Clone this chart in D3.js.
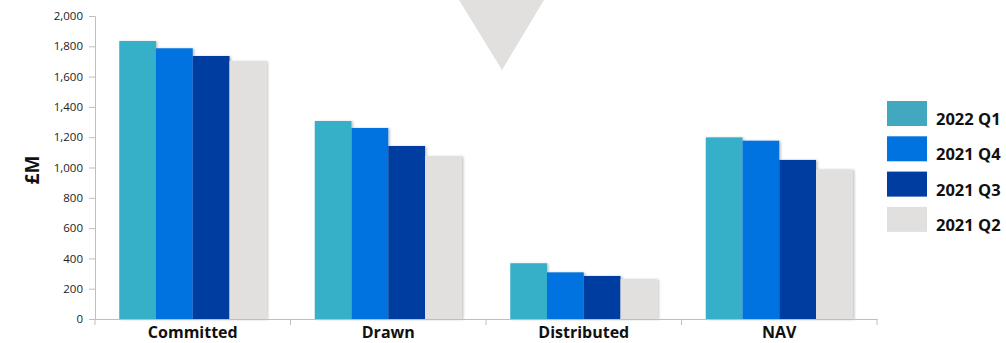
<!DOCTYPE html>
<html><head><meta charset="utf-8">
<script src="https://cdn.jsdelivr.net/npm/d3@7"></script>
<style>html,body{margin:0;padding:0;background:#fff;overflow:hidden}</style>
</head><body>
<svg id="c" width="1006" height="343"></svg>
<script>
const categories = ["Committed", "Drawn", "Distributed", "NAV"];
const seriesNames = ["2022 Q1", "2021 Q4", "2021 Q3", "2021 Q2"];
const q1_2022 = [1835, 1307, 368, 1199];
const q4_2021 = [1787, 1261, 308, 1177];
const q3_2021 = [1736, 1142, 284, 1050];
const q2_2021 = [1703, 1076, 264, 988];
const yTicks = [0, 200, 400, 600, 800, 1000, 1200, 1400, 1600, 1800, 2000];
const barColors = ["#35B0C8", "#0073E0", "#003DA0", "#E1E0DF"];
const legendColors = ["#41A8BF", "#0073E0", "#003DA0", "#E1E0DF"];
const seriesValues = [q1_2022, q4_2021, q3_2021, q2_2021];

const svg = d3.select("#c");
const font = "'Open Sans', 'DejaVu Sans', sans-serif";

// decorative triangle
svg.append("path").attr("d", "M459,0 L544,0 L502,70 Z").attr("fill", "#E1E0DF");

const x0 = d3.scaleBand().domain(categories).range([95, 877]).paddingInner(0).paddingOuter(0);
const x1 = d3.scaleBand().domain(seriesNames).range([0, x0.bandwidth()]).paddingOuter(0.66).paddingInner(0);
const y = d3.scaleLinear().domain([0, 2000]).range([319, 16]);

const defs = svg.append("defs");
const f = defs.append("filter").attr("id","sh").attr("x","-20%").attr("y","-5%").attr("width","150%").attr("height","110%");
f.append("feDropShadow").attr("dx",1.5).attr("dy",0.5).attr("stdDeviation",0.8).attr("flood-color","#000").attr("flood-opacity",0.25);

// y axis
const yAxis = d3.axisLeft(y).tickValues(yTicks).tickFormat(d3.format(",")).tickSize(6).tickPadding(6);
const gy = svg.append("g").attr("transform","translate(95,0)").call(yAxis);
gy.select(".domain").attr("stroke","#BFBFBF");
gy.selectAll(".tick line").attr("stroke","#BFBFBF");
gy.selectAll(".tick text").attr("fill","#222").style("font-family",font).style("font-size","11.5px");

// bars
const groups = svg.append("g").selectAll("g").data(categories).join("g")
  .attr("transform", d => `translate(${x0(d)},0)`);
groups.selectAll("rect").data((c, ci) => seriesNames.map((s, si) => ({s, si, v: seriesValues[si][ci]})))
  .join("rect")
  .attr("x", d => x1(d.s))
  .attr("y", d => y(d.v))
  .attr("width", x1.bandwidth())
  .attr("height", d => y(0) - y(d.v))
  .attr("fill", d => barColors[d.si])
  .attr("filter","url(#sh)");

// x axis
const xAxis = d3.axisBottom(x0).tickSize(0).tickPadding(10);
const gx = svg.append("g").attr("transform","translate(0,319)").call(xAxis);
gx.select(".domain").attr("stroke","#BFBFBF");
gx.selectAll(".tick text").attr("fill","#111").attr("dy","0.55em").style("font-family",font).style("font-size","16px").style("font-weight","bold");
// boundary ticks
svg.append("g").selectAll("line").data(categories.concat(["_end"])).join("line")
  .attr("x1", (d,i) => i < categories.length ? x0(d) : x0.range()[1])
  .attr("x2", (d,i) => i < categories.length ? x0(d) : x0.range()[1])
  .attr("y1", 319).attr("y2", 325).attr("stroke","#BFBFBF");

// y label
svg.append("text").attr("transform","translate(39,170) rotate(-90)")
  .attr("text-anchor","middle").style("font-family",font).style("font-size","19px").style("font-weight","bold").attr("fill","#111").text("£M");

// legend
const lg = svg.append("g").selectAll("g").data(seriesNames).join("g")
  .attr("transform", (d,i) => `translate(887,${101 + i*35.3})`);
lg.append("rect").attr("width",40).attr("height",25).attr("fill",(d,i)=>legendColors[i]);
lg.append("text").attr("x",49).attr("y",24).style("font-family",font).style("font-size","16.5px").style("font-weight","bold").attr("fill","#111").text(d=>d);
</script>
</body></html>
